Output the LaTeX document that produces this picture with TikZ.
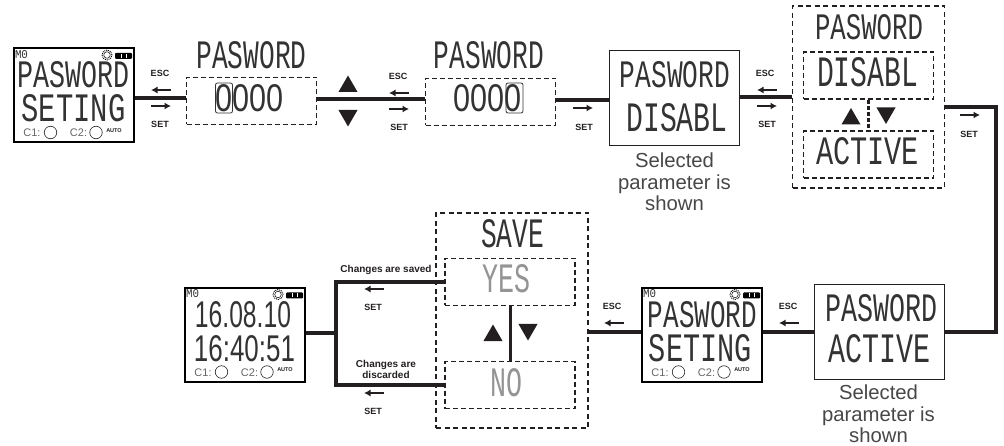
\documentclass[tikz,border=0pt]{standalone}
\usepackage{fontspec}
\setmainfont{Liberation Sans}
\newfontfamily\lcdfont{Liberation Mono}
\usetikzlibrary{shapes.geometric,arrows.meta}
\definecolor{ink}{HTML}{231F20}
\newcommand{\lcd}[3]{\resizebox{#1pt}{#2pt}{\lcdfont #3}}
\newcommand{\lcdnum}[3]{\resizebox{#1pt}{#2pt}{#3}}
% key arrows, free ends are coordinates
\newcommand{\keyarrow}[4]{\coordinate (#1a) at (#2,#4); \coordinate (#1b) at (#3,#4); \draw[keyline] (#1a) -- (#1b);}
% status marks of a display
\newcommand{\statusmarks}[1]{
\node[lcdtxt] (#1m) at ([shift={(-52,-41)}]#1.center) {\lcd{13}{8}{M0}};
\node[sunc] (#1s) at ([shift={(33.5,-40.5)}]#1.center) {};
\node[sunr] (#1r) at (#1s) {};
\node[batt] (#1b) at ([shift={(50,-39.5)}]#1.center) {};
\fill[white] ([shift={(-3,-2)}]#1b.center) rectangle ++(1.2,4);
\fill[white] ([shift={(2,-2)}]#1b.center) rectangle ++(1.2,4);
\node[ctxt] (#1c) at ([shift={(-41.5,37.5)}]#1.center) {C1:};
\node[led] (#1d) at ([shift={(-23,37)}]#1.center) {};
\node[ctxt] (#1e) at ([shift={(5,37.5)}]#1.center) {C2:};
\node[led] (#1f) at ([shift={(22.5,37)}]#1.center) {};
\node[autotxt] (#1g) at ([shift={(40.5,35)}]#1.center) {AUTO};
}
\tikzset{
display/.style = {draw=black, line width=2pt, minimum width=120pt, minimum height=94pt, inner sep=0pt},
panel/.style = {draw=ink, line width=1.5pt, minimum width=130pt, minimum height=95pt, inner sep=0pt},
field/.style = {draw=ink, line width=1.2pt, dash pattern=on 5pt off 3pt, minimum width=130pt, minimum height=47pt, inner sep=0pt},
group/.style = {draw=ink, line width=1.5pt, dash pattern=on 5pt off 3.5pt, minimum width=152pt, inner sep=0pt},
lcdtxt/.style = {text=black!80, inner sep=0pt},
faint/.style = {text=black!42, inner sep=0pt},
cursor/.style = {draw=black!80, rounded corners=2pt, line width=.8pt, minimum width=17pt, minimum height=30pt, inner sep=0pt},
link/.style = {draw=ink, line width=3.5pt},
keyline/.style = {draw=ink, line width=2pt, -{Latex[length=6.5pt,width=7pt]}},
keytxt/.style = {text=ink, font=\bfseries\fontsize{9}{9}\selectfont, inner sep=0pt},
changetxt/.style = {keytxt, font=\bfseries\fontsize{10}{11}\selectfont, align=center},
note/.style = {text=black!72, font=\fontsize{20.3}{21.5}\selectfont, align=center, inner sep=0pt},
keyup/.style = {regular polygon, regular polygon sides=3, fill=ink, minimum size=22pt, inner sep=0pt},
keydown/.style = {keyup, shape border rotate=180},
sunc/.style = {circle, draw=black, line width=.9pt, dash pattern=on 1pt off .9pt, minimum size=10pt, inner sep=0pt},
sunr/.style = {circle, draw=black, fill=white, line width=.5pt, minimum size=6.5pt, inner sep=0pt},
batt/.style = {fill=black, rounded corners=1pt, minimum width=17pt, minimum height=6pt, inner sep=0pt},
ctxt/.style = {text=black!60, font=\fontsize{11}{11}\selectfont, inner sep=0pt},
led/.style = {circle, draw=ink, line width=.6pt, minimum size=12.5pt, inner sep=0pt},
autotxt/.style = {text=ink, font=\bfseries\fontsize{5.5}{5.5}\selectfont, inner sep=0pt},
}
\begin{document}
\begin{tikzpicture}[x=1pt, y=-1pt]
\useasboundingbox (0,0) rectangle (1004,446);

% top row
\node[display] (1) at (73.5,95.5) {};
\node[field] (2) [right of=1, node distance=178pt, yshift=-5.5pt] {};
\node[field] (3) [right of=2, node distance=239pt, yshift=-1pt] {};
\node[panel] (4) [right of=3, node distance=184pt, yshift=4pt] {};
\node[group, minimum height=182pt] (5) [right of=4, node distance=194pt, yshift=1pt] {};
\node[field] (5a) [above of=5, node distance=21.5pt] {};
\node[field] (5b) [below of=5, node distance=57.5pt] {};

% bottom row
\node[panel] (6) at (879.5,332) {};
\node[display] (7) [left of=6, node distance=178pt, yshift=-3pt] {};
\node[group, minimum height=215pt] (8) at (512,320.5) {};
\node[field] (8a) at (510,282) {};
\node[field] (8b) at (510,385) {};
\node[display] (9) at (244.5,335) {};

% display texts
\statusmarks{1}
\node[lcdtxt] (1t) at (74,75) {\lcd{112}{26}{PASWORD}};
\node[lcdtxt] (1u) at (73.5,108.5) {\lcd{104}{27}{SETING}};
\node[lcdtxt] (2t) at (251.5,55) {\lcd{110}{27}{PASWORD}};
\node[lcdtxt] (2u) [below of=2t, node distance=43pt, xshift=-1.5pt] {\lcdnum{68}{27}{0000}};
\node[lcdtxt] (3t) at (489,55) {\lcd{110}{27}{PASWORD}};
\node[lcdtxt] (3u) [below of=3t, node distance=43pt, xshift=-1.5pt] {\lcdnum{68}{27}{0000}};
\node[lcdtxt] (4t) at (675,75) {\lcd{110}{26}{PASWORD}};
\node[lcdtxt] (4u) at (677,118) {\lcd{101}{28}{DISABL}};
\node[note] (4n) at (674.5,182) {Selected\\parameter is\\shown};
\node[lcdtxt] (5t) at (869,27.5) {\lcd{108}{25}{PASWORD}};
\node[lcdtxt] (5u) at (867.5,72) {\lcd{101}{29}{DISABL}};
\node[lcdtxt] (5v) at (867.5,151) {\lcd{103}{27}{ACTIVE}};
\node[lcdtxt] (6t) at (881,308.5) {\lcd{112}{27}{PASWORD}};
\node[lcdtxt] (6u) at (879,349) {\lcd{102}{28}{ACTIVE}};
\node[note] (6n) at (878.5,414) {Selected\\parameter is\\shown};
\statusmarks{7}
\node[lcdtxt] (7t) at (702.5,315) {\lcd{109}{26}{PASWORD}};
\node[lcdtxt] (7u) at (700.5,348.5) {\lcd{103}{27}{SETING}};
\node[lcdtxt] (8t) at (512.5,234) {\lcd{63}{28}{SAVE}};
\node[faint] (8u) at (506,279) {\lcd{48}{28}{YES}};
\node[faint] (8v) at (506,383) {\lcd{32}{28}{NO}};
\statusmarks{9}
\node[lcdtxt] (9t) at (243,315) {\lcdnum{96}{26}{16.08.10}};
\node[lcdtxt] (9u) at (244.5,348.5) {\lcdnum{101}{26}{16:40:51}};

% cursor digits
\node[cursor] (2z) at (224,98) {};
\node[cursor] (3z) at (514.5,98) {};

% connectors
\coordinate (10) at (996,220);
\coordinate (11) at (336,333);
\draw[link] ([yshift=-2.5pt]1.east) -- ([yshift=3pt]2.west);
\draw[link] ([yshift=2pt]2.east) -- ([yshift=3pt]3.west);
\draw[link] ([yshift=2pt]3.east) -- ([yshift=-2pt]4.west);
\draw[link] ([yshift=1pt]4.east) -- (5.west);
\draw[link] ([yshift=-10pt]5.east) -| (10) |- (6.east);
\draw[link] (6.west) -- ([yshift=3pt]7.east);
\draw[link] ([yshift=3pt]7.west) -- ([yshift=-11.5pt]8.east);
\draw[link] (8a.west) -| (11) |- (8b.west);
\draw[link] ([yshift=2pt]9.east) -- (11);
\draw[draw=ink, line width=3pt] (8a.south) -- (8b.north);
\draw[draw=ink, line width=3.5pt, dash pattern=on 4pt off 2pt] (5a.south) -- (5b.north);

% up and down keys
\node[keyup] (2p) at (348,86.5) {};
\node[keydown] (2q) at (348,115.5) {};
\node[keyup] (5p) at (851,119) {};
\node[keydown] (5q) at (886,113) {};
\node[keyup] (8p) at (493,335.5) {};
\node[keydown] (8q) at (528,329.5) {};

% key labels
\node[keytxt] (1e) at (160,73) {ESC};
\keyarrow{1f}{171}{151}{90}
\keyarrow{1g}{151}{171}{106}
\node[keytxt] (1h) at (160,124) {SET};
\node[keytxt] (2e) at (398,76) {ESC};
\keyarrow{2f}{409}{389}{93}
\keyarrow{2g}{389}{409}{109}
\node[keytxt] (2h) at (399,127) {SET};
\keyarrow{3g}{573}{593}{108}
\node[keytxt] (3h) at (584,127) {SET};
\node[keytxt] (4e) at (765,73) {ESC};
\keyarrow{4f}{777}{757}{90}
\keyarrow{4g}{757}{777}{106}
\node[keytxt] (4h) at (767,124) {SET};
\keyarrow{5g}{960}{980}{115}
\node[keytxt] (5h) at (969,134) {SET};
\node[keytxt] (6e) at (788,306) {ESC};
\keyarrow{6f}{799}{779}{323}
\node[keytxt] (7e) at (612,306) {ESC};
\keyarrow{7f}{624}{604}{323}
\node[changetxt] (8e) at (386,270) {Changes are saved};
\keyarrow{8f}{384}{364}{289}
\node[keytxt] (8h) at (373,307) {SET};
\node[changetxt] (8i) at (386,369.5) {Changes are\\discarded};
\keyarrow{8g}{384}{364}{393}
\node[keytxt] (8j) at (373,411) {SET};
\end{tikzpicture}
\end{document}
